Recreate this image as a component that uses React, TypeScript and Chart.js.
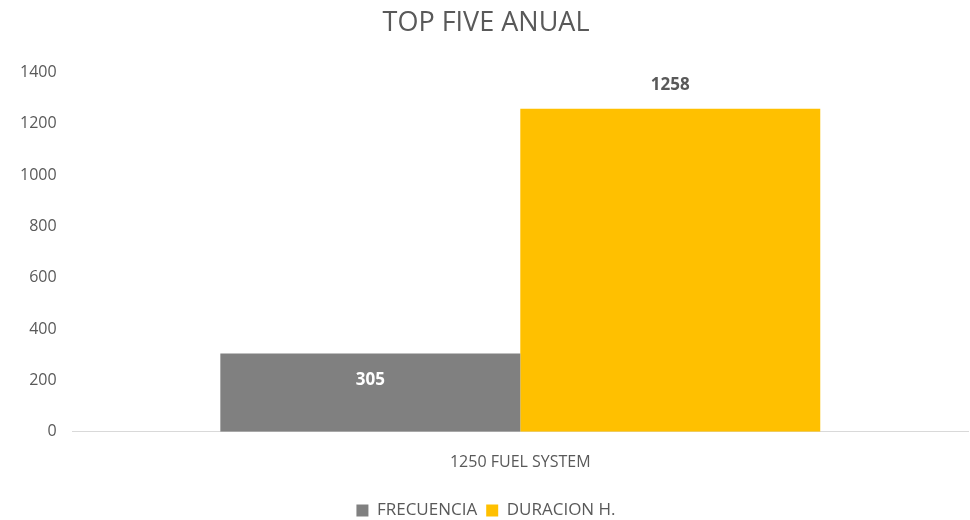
import React, { useEffect, useRef } from "react";
import { Chart, registerables } from "chart.js";

Chart.register(...registerables);

const categories = ["1250 FUEL SYSTEM"];
const frecuencia = [305];
const duracion = [1258];
const seriesNames = ["FRECUENCIA", "DURACION H."];
const colors = ["#808080", "#FFC000"];

const FONT = "'Open Sans', sans-serif";

const labelPlugin = {
  id: "barLabels",
  afterDatasetsDraw(chart: any) {
    const ctx = chart.ctx;
    chart.data.datasets.forEach((ds: any, di: number) => {
      const meta = chart.getDatasetMeta(di);
      meta.data.forEach((bar: any, i: number) => {
        const v = ds.data[i];
        ctx.save();
        ctx.font = `bold 17px ${FONT}`;
        ctx.textAlign = "center";
        ctx.textBaseline = "middle";
        if (di === 0) {
          ctx.fillStyle = "#ffffff";
          ctx.fillText(String(v), bar.x, bar.y + 27);
        } else {
          ctx.fillStyle = "#595959";
          ctx.fillText(String(v), bar.x, bar.y - 24);
        }
        ctx.restore();
      });
    });
  },
};

export default function App() {
  const ref = useRef<HTMLCanvasElement>(null);
  useEffect(() => {
    if (!ref.current) return;
    const chart = new Chart(ref.current, {
      type: "bar",
      data: {
        labels: categories,
        datasets: [
          { label: seriesNames[0], data: frecuencia, backgroundColor: colors[0], categoryPercentage: 0.67, barPercentage: 1 },
          { label: seriesNames[1], data: duracion, backgroundColor: colors[1], categoryPercentage: 0.67, barPercentage: 1 },
        ],
      },
      options: {
        animation: false,
        responsive: true,
        maintainAspectRatio: false,
        layout: { padding: { left: 4, right: 2, top: 0, bottom: -9 } },
        plugins: {
          title: {
            display: true,
            text: "TOP FIVE ANUAL",
            color: "#595959",
            font: { family: FONT, size: 27, weight: "normal" },
            padding: { top: 7, bottom: 33 },
          },
          legend: {
            position: "bottom",
            labels: {
              color: "#595959",
              font: { family: FONT, size: 17 },
              boxWidth: 12,
              boxHeight: 12,
              padding: 9,
            },
          },
          tooltip: { enabled: false },
        },
        scales: {
          x: {
            grid: { display: false, drawTicks: false },
            border: { display: true, color: "#d9d9d9", width: 1 },
            ticks: { color: "#595959", font: { family: FONT, size: 16 }, padding: 21 },
          },
          y: {
            min: 0,
            max: 1400,
            grid: { display: false, drawTicks: false },
            border: { display: false },
            ticks: {
              stepSize: 200,
              color: "#595959",
              font: { family: FONT, size: 16 },
              padding: 16,
              callback: (v: any) => String(v),
            },
          },
        },
      },
      plugins: [labelPlugin],
    });
    return () => chart.destroy();
  }, []);
  return (
    <div style={{ position: "fixed", left: 0, top: 0, width: 970, height: 520, background: "#fff" }}>
      <canvas ref={ref} />
    </div>
  );
}
